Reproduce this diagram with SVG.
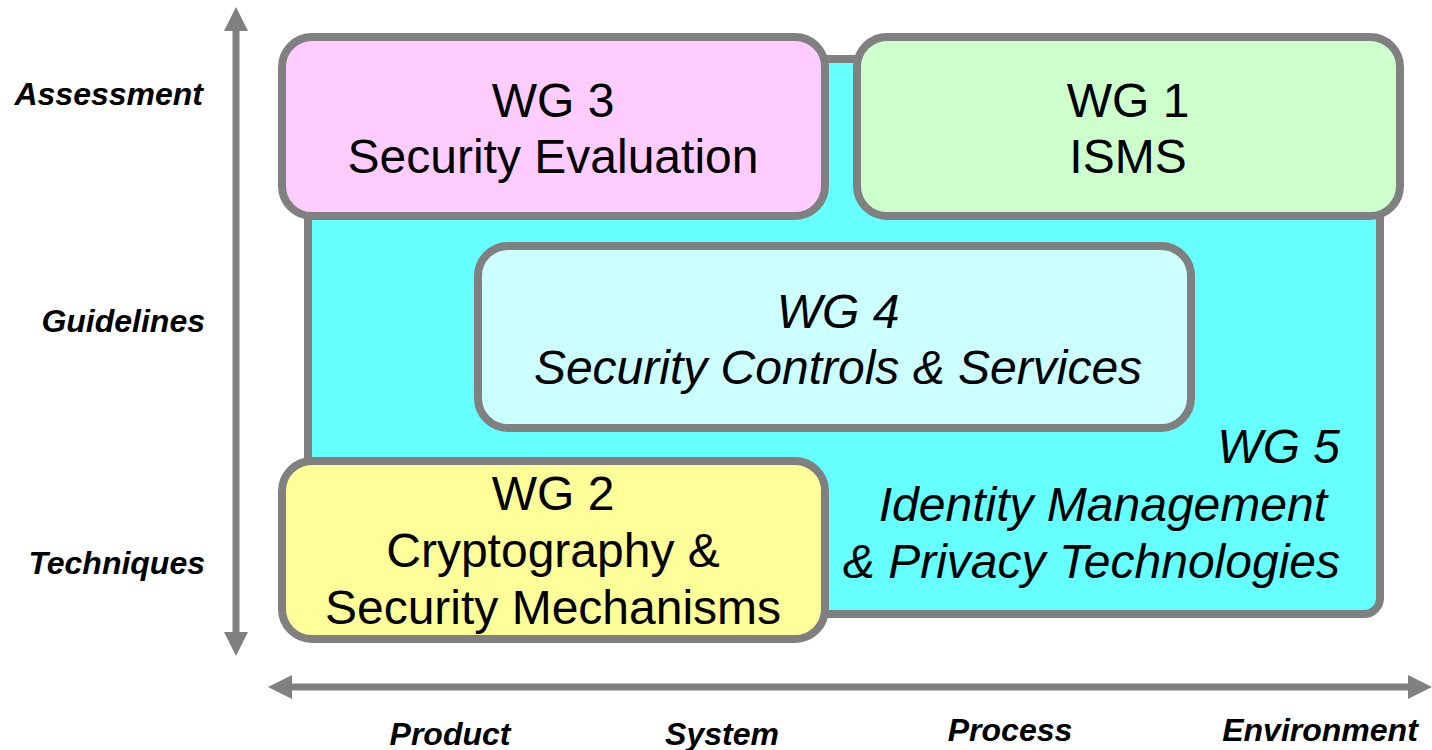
<svg xmlns="http://www.w3.org/2000/svg" width="1432" height="750" viewBox="0 0 1432 750">
<style>
.box{stroke:#808080;stroke-width:8}
.t{font-family:"Liberation Sans",Arial,sans-serif;font-size:48px;fill:#000}
.i{font-style:italic}
.ax{font-family:"Liberation Sans",Arial,sans-serif;font-size:32px;font-weight:bold;font-style:italic;fill:#000}
.axis{stroke:#808080;stroke-width:7;fill:none}
</style>
<rect width="1432" height="750" fill="#fff"/>
<g id="connectors">
<line class="axis" x1="236" y1="26" x2="236" y2="636"/>
<polygon points="236,7 248,31 224,31" fill="#808080"/>
<polygon points="236,656 248,632 224,632" fill="#808080"/>
<line class="axis" x1="288" y1="687" x2="1412" y2="687"/>
<polygon points="268,687 292,675 292,699" fill="#808080"/>
<polygon points="1432,687 1408,675 1408,699" fill="#808080"/>
</g>
<g id="wg5">
<rect class="box" x="308" y="59" width="1072" height="555" rx="16" fill="#66FFFF"/>
<text class="t i" x="1340" y="463" text-anchor="end">WG 5</text>
<text class="t i" x="1327" y="521" text-anchor="end">Identity Management</text>
<text class="t i" x="1340" y="578" text-anchor="end">&amp; Privacy Technologies</text>
</g>
<g id="wg3">
<rect class="box" x="282" y="37" width="543" height="179" rx="30" fill="#FFCCFF"/>
<text class="t" x="553" y="117" text-anchor="middle">WG 3</text>
<text class="t" x="553" y="173" text-anchor="middle">Security Evaluation</text>
</g>
<g id="wg1">
<rect class="box" x="857" y="37" width="543" height="179" rx="30" fill="#CCFFCC"/>
<text class="t" x="1128" y="117" text-anchor="middle">WG 1</text>
<text class="t" x="1128" y="173" text-anchor="middle">ISMS</text>
</g>
<g id="wg4">
<rect class="box" x="478" y="246" width="713" height="182" rx="30" fill="#CCFFFF"/>
<text class="t i" x="838" y="328" text-anchor="middle">WG 4</text>
<text class="t i" x="838" y="384" text-anchor="middle">Security Controls &amp; Services</text>
</g>
<g id="wg2">
<rect class="box" x="282" y="461" width="543" height="178" rx="30" fill="#FFFF99"/>
<text class="t" x="553" y="510" text-anchor="middle">WG 2</text>
<text class="t" x="553" y="567" text-anchor="middle">Cryptography &amp;</text>
<text class="t" x="553" y="624" text-anchor="middle">Security Mechanisms</text>
</g>
<g id="labels">
<text class="ax" x="203" y="105" text-anchor="end">Assessment</text>
<text class="ax" x="205" y="332" text-anchor="end">Guidelines</text>
<text class="ax" x="205" y="574" text-anchor="end">Techniques</text>
<text class="ax" x="450" y="745" text-anchor="middle">Product</text>
<text class="ax" x="722" y="745" text-anchor="middle">System</text>
<text class="ax" x="1010" y="741" text-anchor="middle">Process</text>
<text class="ax" x="1320" y="741" text-anchor="middle">Environment</text>
</g>
</svg>
